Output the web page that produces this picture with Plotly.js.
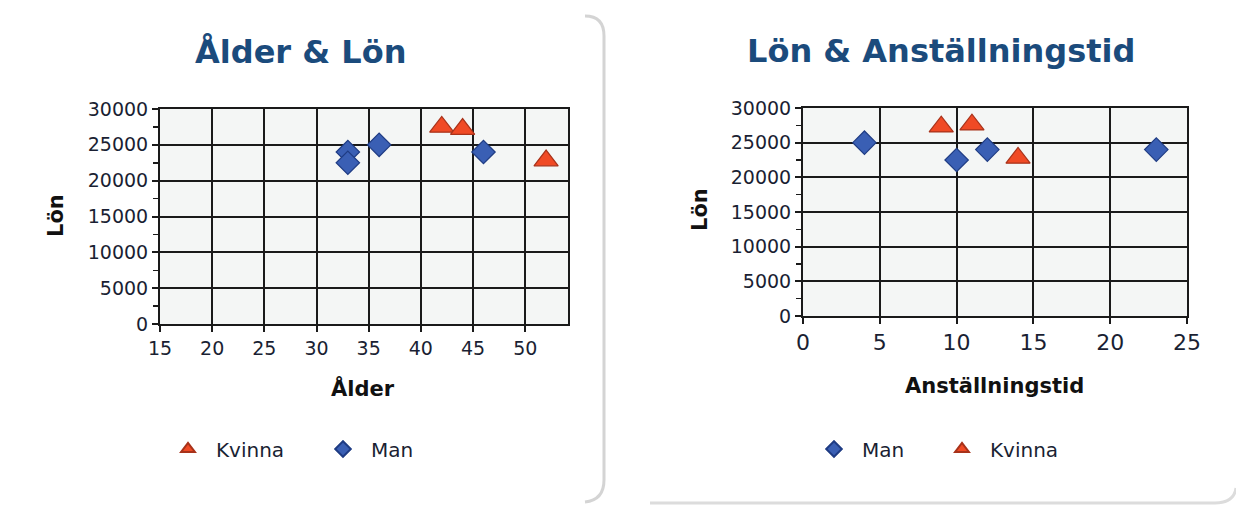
<!DOCTYPE html>
<html>
<head>
<meta charset="utf-8">
<script src="https://cdn.plot.ly/plotly-3.0.1.min.js"></script>
<style>
  html, body { margin: 0; padding: 0; background: #ffffff; }
  #chart { width: 1236px; height: 507px; }
</style>
</head>
<body>
<div id="chart"></div>
<script>
// ---- Data ----
const ageKvinna = [42, 44, 52];
const lonKvinnaAge = [27500, 27200, 22800];
const ageMan = [33, 33, 36, 46];
const lonManAge = [24000, 22500, 25000, 24000];

const tidMan = [4, 10, 12, 23];
const lonManTid = [25000, 22500, 24000, 24000];
const tidKvinna = [9, 11, 14];
const lonKvinnaTid = [27300, 27600, 22800];

const xTicksAge = [15, 20, 25, 30, 35, 40, 45, 50];
const xTicksTid = [0, 5, 10, 15, 20, 25];
const yTicks = [0, 5000, 10000, 15000, 20000, 25000, 30000];
const yTickLabels = ["0", "5000", "10000", "15000", "20000", "25000", "30000"];

const labelKvinna = "Kvinna";
const labelMan = "Man";

// ---- Styles ----
const triStyle = { symbol: "triangle-up", size: 21, color: "#f04a25",
                   line: { color: "#a8321a", width: 1.2 } };
const diaStyle = { symbol: "diamond", size: 18, color: "#3a5fb4",
                   line: { color: "#1f3c84", width: 1.2 } };
const tickFont = { family: "DejaVu Sans", size: 19, color: "#1a1f33" };
const W = 1236, H = 507;
const px = v => v / W;
const py = v => 1 - v / H;

const traces = [
  { type: "scatter", mode: "markers", name: labelKvinna, x: ageKvinna, y: lonKvinnaAge,
    xaxis: "x", yaxis: "y", marker: triStyle, legend: "legend" },
  { type: "scatter", mode: "markers", name: labelMan, x: ageMan, y: lonManAge,
    xaxis: "x", yaxis: "y", marker: diaStyle, legend: "legend" },
  { type: "scatter", mode: "markers", name: labelMan, x: tidMan, y: lonManTid,
    xaxis: "x2", yaxis: "y2", marker: diaStyle, legend: "legend2" },
  { type: "scatter", mode: "markers", name: labelKvinna, x: tidKvinna, y: lonKvinnaTid,
    xaxis: "x2", yaxis: "y2", marker: triStyle, legend: "legend2" }
];

function axisBase() {
  return {
    showline: true, linecolor: "#1a1a1a", linewidth: 2, mirror: true,
    showgrid: true, gridcolor: "#1a1a1a", gridwidth: 2,
    zeroline: false, ticks: "outside", ticklen: 6, tickwidth: 2, tickcolor: "#1a1a1a",
    tickfont: tickFont, fixedrange: true
  };
}
const minorY = { dtick: 2500, ticks: "outside", ticklen: 5, tickwidth: 1.5, tickcolor: "#1a1a1a", showgrid: false };

const layout = {
  width: W, height: H,
  margin: { l: 0, r: 0, t: 0, b: 0 },
  paper_bgcolor: "#ffffff",
  plot_bgcolor: "#f4f6f5",
  showlegend: true,
  xaxis: Object.assign(axisBase(), {
    domain: [px(160), px(568)], range: [15, 54.1], tickmode: "array", tickvals: xTicksAge,
    anchor: "y", tickfont: { family: "DejaVu Sans", size: 19, color: "#1a1f33" }
  }),
  yaxis: Object.assign(axisBase(), {
    domain: [py(324), py(109)], range: [0, 30000], tickmode: "array",
    tickvals: yTicks, ticktext: yTickLabels, anchor: "x", minor: minorY
  }),
  xaxis2: Object.assign(axisBase(), {
    domain: [px(803), px(1187)], range: [0, 25], tickmode: "array", tickvals: xTicksTid,
    anchor: "y2", tickfont: { family: "DejaVu Sans", size: 22, color: "#1a1f33" }
  }),
  yaxis2: Object.assign(axisBase(), {
    domain: [py(316), py(108)], range: [0, 30000], tickmode: "array",
    tickvals: yTicks, ticktext: yTickLabels, anchor: "x2", minor: minorY
  }),
  legend: {
    orientation: "h", x: px(160), y: py(449), xanchor: "left", yanchor: "middle",
    font: { family: "DejaVu Sans", size: 20, color: "#1a1f33" }, itemsizing: "constant",
    itemwidth: 46, entrywidth: 94, bgcolor: "rgba(0,0,0,0)"
  },
  legend2: {
    orientation: "h", x: px(806), y: py(449), xanchor: "left", yanchor: "middle",
    font: { family: "DejaVu Sans", size: 20, color: "#1a1f33" }, itemsizing: "constant",
    itemwidth: 46, entrywidth: 67, bgcolor: "rgba(0,0,0,0)"
  },
  annotations: [
    { text: "Ålder & Lön", xref: "paper", yref: "paper", x: px(300), y: py(52),
      xanchor: "center", yanchor: "middle", showarrow: false,
      font: { family: "DejaVu Sans", size: 32, color: "#1b4b7c", weight: "bold" } },
    { text: "Lön & Anställningstid", xref: "paper", yref: "paper", x: px(941), y: py(51),
      xanchor: "center", yanchor: "middle", showarrow: false,
      font: { family: "DejaVu Sans", size: 32, color: "#1b4b7c", weight: "bold" } },
    { text: "Lön", xref: "paper", yref: "paper", x: px(56), y: py(216), textangle: -90,
      xanchor: "center", yanchor: "middle", showarrow: false,
      font: { family: "DejaVu Sans", size: 21, color: "#111111", weight: "bold" } },
    { text: "Ålder", xref: "paper", yref: "paper", x: px(363), y: py(388),
      xanchor: "center", yanchor: "middle", showarrow: false,
      font: { family: "DejaVu Sans", size: 21, color: "#111111", weight: "bold" } },
    { text: "Lön", xref: "paper", yref: "paper", x: px(700), y: py(210), textangle: -90,
      xanchor: "center", yanchor: "middle", showarrow: false,
      font: { family: "DejaVu Sans", size: 21, color: "#111111", weight: "bold" } },
    { text: "Anställningstid", xref: "paper", yref: "paper", x: px(994), y: py(386),
      xanchor: "center", yanchor: "middle", showarrow: false,
      font: { family: "DejaVu Sans", size: 21, color: "#111111", weight: "bold" } }
  ],
  shapes: [
    { type: "path", xref: "paper", yref: "paper", layer: "below",
      path: `M ${px(585)} ${py(16)} Q ${px(604)} ${py(16)} ${px(604)} ${py(36)} L ${px(604)} ${py(480)} Q ${px(604)} ${py(500)} ${px(585)} ${py(502)}`,
      line: { color: "#d4d4d4", width: 3 } },
    { type: "path", xref: "paper", yref: "paper", layer: "below",
      path: `M ${px(650)} ${py(503)} L ${px(1215)} ${py(503)} Q ${px(1234)} ${py(503)} ${px(1236)} ${py(488)}`,
      line: { color: "#dcdcdc", width: 3 } }
  ]
};

Plotly.newPlot("chart", traces, layout, { displayModeBar: false, staticPlot: true });
</script>
</body>
</html>
